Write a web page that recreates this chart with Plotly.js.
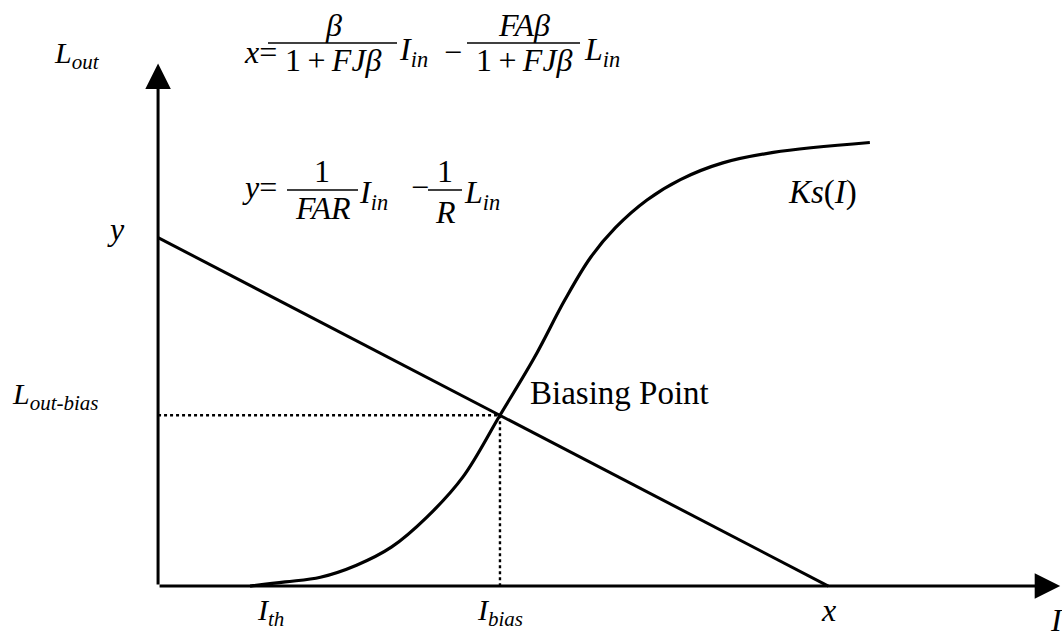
<!DOCTYPE html>
<html>
<head>
<meta charset="utf-8">
<script src="https://cdn.plot.ly/plotly-3.0.1.min.js"></script>
<style>
  html, body { margin: 0; padding: 0; background: #fff; }
  #chart { width: 1062px; height: 632px; }
</style>
</head>
<body>
<div id="chart"></div>
<script>
// Load line: from the L axis intercept (y) down to the I axis intercept (x)
const loadLineI = [0, 7.43];
const loadLineL = [6.67, 0];

// Operating point where the load line crosses Ks(I)
const biasI = 3.79;
const biasL = 3.27;

// Threshold current
const thresholdI = 1.25;

// Ks(I) transfer characteristic
const ksI = [1.02, 1.41, 1.80, 2.20, 2.59, 2.98, 3.38, 3.79, 4.17, 4.51, 4.79, 5.07, 5.42, 5.79, 6.26, 6.82, 7.89];
const ksL = [0.00, 0.08, 0.17, 0.40, 0.75, 1.32, 2.09, 3.27, 4.37, 5.48, 6.28, 6.86, 7.39, 7.78, 8.10, 8.30, 8.49];

// Axis extents (arrow tips)
const axisMaxI = 10;
const axisMaxL = 10;

// Axis and point labels
const labelLout = '<i>L<sub>out</sub></i>';
const labelI = '<i>I</i>';
const labelY = '<i>y</i>';
const labelX = '<i>x</i>';
const labelBiasL = '<i>L<sub>out-bias</sub></i>';
const labelIth = '<i>I<sub>th</sub></i>';
const labelIbias = '<i>I<sub>bias</sub></i>';
const labelKs = '<i>Ks</i>(<i>I</i>)';
const labelBiasPoint = 'Biasing Point';

const SERIF = '"Liberation Serif", "Times New Roman", serif';
const INK = '#000';
const TS = '\u2009';

// Plot area geometry in page pixels
const PL = 131, PT = 61, PW = 931, PH = 546;
const fx = px => (px - PL) / PW;
const fy = py => (PT + PH - py) / PH;

function txt(text, px, py, size, anchor, extra) {
  return Object.assign({
    xref: 'paper', yref: 'paper',
    x: fx(px), y: fy(py),
    text: text, showarrow: false,
    xanchor: anchor || 'center', yanchor: 'middle',
    font: { family: SERIF, size: size, color: INK }
  }, extra || {});
}

function bar(px0, px1, py) {
  return {
    type: 'line', xref: 'paper', yref: 'paper',
    x0: fx(px0), x1: fx(px1), y0: fy(py), y1: fy(py),
    line: { color: INK, width: 1.6 }
  };
}

const traces = [
  {
    x: loadLineI, y: loadLineL, mode: 'lines',
    line: { color: INK, width: 3 }, hoverinfo: 'skip'
  },
  {
    x: ksI, y: ksL, mode: 'lines',
    line: { color: INK, width: 3.2, shape: 'spline', smoothing: 1 }, hoverinfo: 'skip'
  },
  {
    x: [0, biasI], y: [biasL, biasL], mode: 'lines',
    line: { color: INK, width: 2.4, dash: 'dot' }, hoverinfo: 'skip'
  },
  {
    x: [biasI, biasI], y: [biasL, 0], mode: 'lines',
    line: { color: INK, width: 2.4, dash: 'dot' }, hoverinfo: 'skip'
  }
];

const axisArrow = (x, y) => ({
  xref: 'x', yref: 'y', axref: 'x', ayref: 'y',
  x: x, y: y, ax: 0, ay: 0, text: '',
  showarrow: true, arrowhead: 2, arrowsize: 1.7, arrowwidth: 3, arrowcolor: INK
});

const annotations = [
  axisArrow(axisMaxI, 0),
  axisArrow(0, axisMaxL),

  // axis and point labels
  txt(labelLout, 52, 55, 30, 'left'),
  txt(labelY, 127, 229, 32, 'right'),
  txt(labelBiasL, 10, 396, 30, 'left'),
  Object.assign(txt(labelIth, 0, 612, 30), { xref: 'x', x: thresholdI }),
  Object.assign(txt(labelIbias, 0, 612, 30), { xref: 'x', x: biasI }),
  Object.assign(txt(labelX, 0, 610, 32), { xref: 'x', x: loadLineI[1] }),
  txt(labelI, 1056, 620, 32),
  txt(labelKs, 822, 192, 33),
  txt(labelBiasPoint, 528, 393, 33, 'left'),

  // x = beta/(1+FJbeta) I_in - FA beta/(1+FJbeta) L_in
  txt('<i>x</i>=', 242, 52, 32, 'left'),
  txt('<i>β</i>', 333, 25, 32),
  txt('1' + TS + '+' + TS + '<i>FJβ</i>', 333, 60, 32),
  txt('<i>I</i><sub><i>in</i></sub>', 397, 51, 32, 'left'),
  txt('−', 453, 52, 32),
  txt('<i>FAβ</i>', 524, 25, 32),
  txt('1' + TS + '+' + TS + '<i>FJβ</i>', 524, 60, 32),
  txt('<i>L</i><sub><i>in</i></sub>', 582, 51, 32, 'left'),

  // y = 1/(FAR) I_in - 1/R L_in
  txt('<i>y</i>=', 240, 187, 32, 'left'),
  txt('1', 322, 171, 32),
  txt('<i>FAR</i>', 323, 208, 32),
  txt('<i>I</i><sub><i>in</i></sub>', 357, 194, 32, 'left'),
  txt('−', 420, 187, 32),
  txt('1', 445, 171, 32),
  txt('<i>R</i>', 445, 212, 32),
  txt('<i>L</i><sub><i>in</i></sub>', 462, 194, 32, 'left')
];

const shapes = [
  bar(268, 397, 43),
  bar(467, 580, 43),
  bar(287, 358, 190),
  bar(428, 462, 190)
];

const layout = {
  width: 1062, height: 632,
  margin: { l: PL, r: 1062 - PL - PW, t: PT, b: 632 - PT - PH, pad: 0 },
  paper_bgcolor: '#fff', plot_bgcolor: '#fff',
  showlegend: false,
  xaxis: { range: [-0.3, 10.02], visible: false, fixedrange: true },
  yaxis: { range: [-0.4, 10.05], visible: false, fixedrange: true },
  annotations: annotations,
  shapes: shapes
};

Plotly.newPlot('chart', traces, layout, { staticPlot: true, displayModeBar: false });
</script>
</body>
</html>
